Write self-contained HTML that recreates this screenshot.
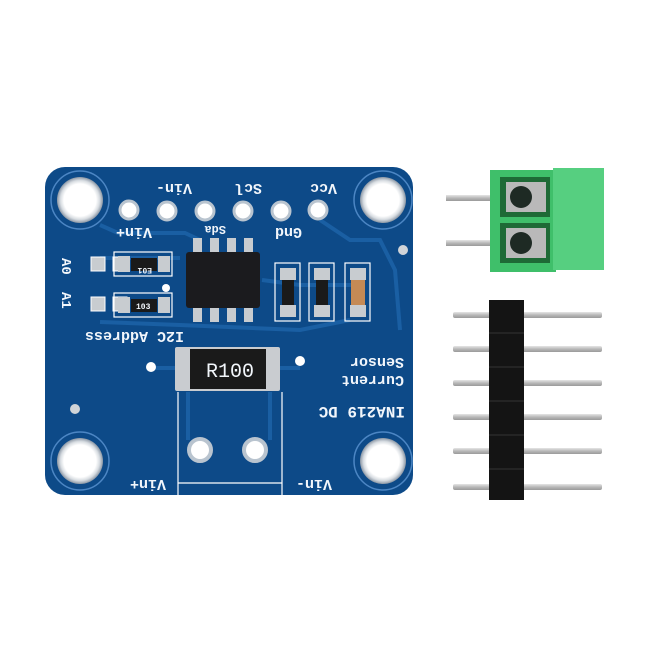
<!DOCTYPE html>
<html><head><meta charset="utf-8"><style>
html,body{margin:0;padding:0;background:#fff;width:650px;height:650px;overflow:hidden}
svg text{font-family:"Liberation Mono","DejaVu Sans Mono",monospace;fill:#f2f6fb;font-weight:bold}
</style></head><body>
<svg width="650" height="650" viewBox="0 0 650 650" xmlns="http://www.w3.org/2000/svg">
<defs>
<radialGradient id="hole" cx="50%" cy="50%" r="50%">
<stop offset="0.7" stop-color="#ffffff"/><stop offset="0.85" stop-color="#d8dde2"/><stop offset="1" stop-color="#8a96a4"/>
</radialGradient>
<linearGradient id="pin" x1="0" y1="0" x2="0" y2="1">
<stop offset="0" stop-color="#e6e6e6"/><stop offset="0.5" stop-color="#b8b8b8"/><stop offset="1" stop-color="#9a9a9a"/>
</linearGradient>
</defs>
<rect x="45" y="167" width="368" height="328" rx="20" fill="#0d4a88"/>
<g stroke="#1a5fa3" stroke-width="4" fill="none">
<path d="M100 225 L118 233 L185 233 L200 240"/>
<path d="M320 220 L350 240 L380 240 L395 270 L400 330"/>
<path d="M262 280 L300 285 L360 285"/>
<path d="M100 258 L180 258"/>
<path d="M100 322 L180 325 L300 330 L350 320"/>
<path d="M150 368 L180 368"/><path d="M280 368 L300 368"/>
<path d="M188 392 L188 440"/><path d="M270 392 L270 440"/>
</g>
<g>
<circle cx="80" cy="200" r="29" fill="none" stroke="#4c86c4" stroke-width="1.5"/>
<circle cx="80" cy="200" r="23" fill="url(#hole)"/>
<circle cx="383" cy="200" r="29" fill="none" stroke="#4c86c4" stroke-width="1.5"/>
<circle cx="383" cy="200" r="23" fill="url(#hole)"/>
<circle cx="80" cy="461" r="29" fill="none" stroke="#4c86c4" stroke-width="1.5"/>
<circle cx="80" cy="461" r="23" fill="url(#hole)"/>
<circle cx="383" cy="461" r="29" fill="none" stroke="#4c86c4" stroke-width="1.5"/>
<circle cx="383" cy="461" r="23" fill="url(#hole)"/>
</g>
<g fill="#fff" stroke="#b9c4cf" stroke-width="3">
<circle cx="129" cy="210" r="9"/><circle cx="167" cy="211" r="9"/><circle cx="205" cy="211" r="9"/>
<circle cx="243" cy="211" r="9"/><circle cx="281" cy="211" r="9"/><circle cx="318" cy="210" r="9"/>
</g>
<circle cx="403" cy="250" r="5" fill="#d0d4d8"/>
<circle cx="75" cy="409" r="5" fill="#d0d4d8"/>
<circle cx="151" cy="367" r="5" fill="#fff"/><circle cx="300" cy="361" r="5" fill="#fff"/>
<circle cx="166" cy="288" r="4" fill="#fff"/>
<g font-size="15">
<text transform="translate(192,184) rotate(180)">Vin-</text>
<text transform="translate(262,184) rotate(180)">Scl</text>
<text transform="translate(337,184) rotate(180)">Vcc</text>
<text transform="translate(152,228) rotate(180)">Vin+</text>
<text transform="translate(226,226) rotate(180)" font-size="12">Sda</text>
<text transform="translate(302,228) rotate(180)">Gnd</text>
<text transform="translate(62,258) rotate(90)" font-size="14">A0</text>
<text transform="translate(62,292) rotate(90)" font-size="14">A1</text>
<text transform="translate(184,332) rotate(180)">I2C Address</text>
<text transform="translate(404,358) rotate(180)">Sensor</text>
<text transform="translate(404,376) rotate(180)">Current</text>
<text transform="translate(405,407) rotate(180)" font-size="16">INA219 DC</text>
<text transform="translate(166,480) rotate(180)">Vin+</text>
<text transform="translate(332,480) rotate(180)">Vin-</text>
</g>
<g fill="#c8ccd0" stroke="#fff" stroke-width="1">
<rect x="91" y="257" width="14" height="14"/><rect x="113" y="257" width="14" height="14"/>
<rect x="91" y="297" width="14" height="14"/><rect x="113" y="297" width="14" height="14"/>
</g>
<g fill="none" stroke="#fff" stroke-width="1.2">
<rect x="114" y="252" width="58" height="24"/><rect x="114" y="293" width="58" height="24"/>
<rect x="275" y="263" width="25" height="58"/><rect x="309" y="263" width="25" height="58"/><rect x="345" y="263" width="25" height="58"/>
</g>
<g fill="#c8ccd0">
<rect x="118" y="256" width="12" height="16"/><rect x="158" y="256" width="12" height="16"/>
<rect x="118" y="297" width="12" height="16"/><rect x="158" y="297" width="12" height="16"/>
<rect x="280" y="268" width="16" height="12"/><rect x="280" y="305" width="16" height="12"/>
<rect x="314" y="268" width="16" height="12"/><rect x="314" y="305" width="16" height="12"/>
<rect x="350" y="268" width="16" height="12"/><rect x="350" y="305" width="16" height="12"/>
</g>
<rect x="131" y="258" width="26" height="13" fill="#1a1a1a"/>
<rect x="131" y="299" width="26" height="13" fill="#1a1a1a"/>
<rect x="282" y="280" width="12" height="25" fill="#1a1a1a"/>
<rect x="316" y="280" width="12" height="25" fill="#1a1a1a"/>
<rect x="351" y="280" width="14" height="25" fill="#c58a55"/>
<text transform="translate(152,268) rotate(180)" font-size="8">E01</text>
<text x="136" y="309" font-size="8">103</text>
<g fill="#c8ccd0">
<rect x="193" y="238" width="9" height="16"/><rect x="210" y="238" width="9" height="16"/>
<rect x="227" y="238" width="9" height="16"/><rect x="244" y="238" width="9" height="16"/>
<rect x="193" y="306" width="9" height="16"/><rect x="210" y="306" width="9" height="16"/>
<rect x="227" y="306" width="9" height="16"/><rect x="244" y="306" width="9" height="16"/>
</g>
<rect x="186" y="252" width="74" height="56" rx="3" fill="#1b1b1e"/>
<rect x="175" y="347" width="105" height="44" rx="2" fill="#c9ccd0"/>
<rect x="190" y="349" width="76" height="40" fill="#1a1a1a"/>
<text x="206" y="377" font-size="20" font-family="Liberation Sans,sans-serif" style="font-weight:normal" fill="#eee">R100</text>
<g stroke="#fff" stroke-width="1.2" fill="none">
<path d="M178 392 L178 495"/><path d="M282 392 L282 495"/><path d="M178 483 L282 483"/>
</g>
<circle cx="200" cy="450" r="11" fill="#fff" stroke="#b9c4cf" stroke-width="4"/>
<circle cx="255" cy="450" r="11" fill="#fff" stroke="#b9c4cf" stroke-width="4"/>
<rect x="446" y="195" width="48" height="6" fill="url(#pin)"/>
<rect x="446" y="240" width="48" height="6" fill="url(#pin)"/>
<rect x="490" y="170" width="66" height="102" fill="#3fbf6a"/>
<rect x="553" y="168" width="51" height="102" fill="#56cf80"/>
<rect x="500" y="177" width="50" height="40" fill="#1e6a36"/>
<rect x="500" y="223" width="50" height="40" fill="#1e6a36"/>
<rect x="506" y="182" width="40" height="30" fill="#b9b9b9"/>
<rect x="506" y="228" width="40" height="30" fill="#b9b9b9"/>
<circle cx="521" cy="197" r="11" fill="#1e2a24"/>
<circle cx="521" cy="243" r="11" fill="#1e2a24"/>
<g fill="url(#pin)">
<rect x="453" y="312" width="149" height="6" rx="2"/>
<rect x="453" y="346" width="149" height="6" rx="2"/>
<rect x="453" y="380" width="149" height="6" rx="2"/>
<rect x="453" y="414" width="149" height="6" rx="2"/>
<rect x="453" y="448" width="149" height="6" rx="2"/>
<rect x="453" y="484" width="149" height="6" rx="2"/>
</g>
<rect x="489" y="300" width="35" height="200" fill="#141414"/>
<g stroke="#333" stroke-width="1"><path d="M489 333H524M489 367H524M489 401H524M489 435H524M489 469H524"/></g>
</svg>
</body></html>
